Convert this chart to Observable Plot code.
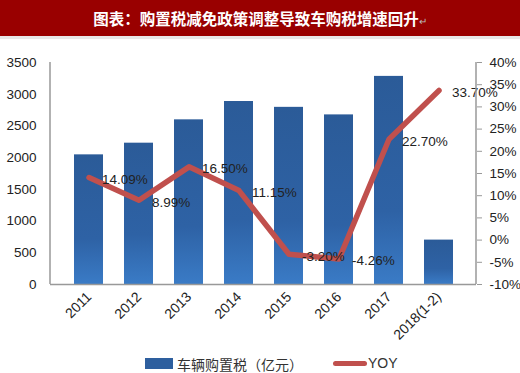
<!DOCTYPE html>
<html><head><meta charset="utf-8">
<script src="https://cdn.jsdelivr.net/npm/d3@7"></script>
<script src="https://cdn.jsdelivr.net/npm/@observablehq/plot@0.6"></script>
<style>
body{margin:0;background:#fff;width:520px;height:373px;overflow:hidden;position:relative;font-family:"Liberation Sans",Arial,sans-serif;}
#title{position:absolute;left:0;top:0;width:520px;height:36px;background:#990000;color:#fff;font-family:"Noto Sans CJK SC",sans-serif;font-weight:bold;font-size:15.5px;line-height:36px;text-align:center;border-bottom:3px solid #e8e8e8;}
#title span{color:#bbb;font-size:10px;font-weight:normal;}
#chart{position:absolute;left:0;top:37px;}
#legend{position:absolute;left:0;top:355px;width:520px;height:18px;font-size:14px;color:#333;}
.sw{position:absolute;}
</style></head><body>
<div id="title">图表：购置税减免政策调整导致车购税增速回升<span>↵</span></div>
<div id="chart"></div>
<div id="legend">
  <div class="sw" style="left:145px;top:3px;width:28px;height:11px;background:#2e5f9e;"></div>
  <div class="sw" style="left:177px;top:-1px;font-family:'Noto Sans CJK SC',sans-serif;font-size:14px;">车辆购置税（亿元）</div>
  <div class="sw" style="left:333px;top:6px;width:34px;height:5px;border-radius:3px;background:#c0504d;"></div>
  <div class="sw" style="left:368px;top:0px;font-size:14px;">YOY</div>
</div>
<script>
const categories = ["2011","2012","2013","2014","2015","2016","2017","2018(1-2)"];
const taxValues = [2044, 2228, 2596, 2885, 2793, 2674, 3281, 700];
const yoyValues = [14.09, 8.99, 16.50, 11.15, -3.20, -4.26, 22.70, 33.70];
const leftTicks = [0,500,1000,1500,2000,2500,3000,3500];
const rightTicks = [-10,-5,0,5,10,15,20,25,30,35,40];

const yMax = 3500, rMin = -10, rMax = 40;
const toLeft = v => (v - rMin) / (rMax - rMin) * yMax;
const fromLeft = d => Math.round(d / yMax * (rMax - rMin) + rMin);

const bars = categories.map((c,i)=>({cat:c, v:taxValues[i]}));
const line = categories.map((c,i)=>({cat:c, yoy:yoyValues[i], y:toLeft(yoyValues[i])}));

const plot = Plot.plot({
  width: 520, height: 313,
  marginLeft: 50, marginRight: 44, marginTop: 25, marginBottom: 66,
  style: {fontFamily: "'Liberation Sans', Arial, sans-serif", fontSize: "13px", color: "#222", background: "transparent", overflow: "visible"},
  x: {domain: categories, padding: 0.42, align: 0.5},
  y: {domain: [0, yMax]},
  marks: [
    Plot.barY(bars, {x: "cat", y: "v", fill: "url(#barGrad)"}),
    Plot.axisY(leftTicks, {anchor: "left", tickSize: 0, tickPadding: 14, fontSize: 13.5, label: null, tickFormat: d => String(d)}),
    Plot.axisY(rightTicks.map(toLeft), {anchor: "right", tickSize: 5, tickPadding: 8, fontSize: 13.5, label: null, stroke: "#999", tickFormat: d => fromLeft(d) + "%"}),
    Plot.axisX({tickRotate: -45, tickSize: 0, tickPadding: 10, fontSize: 14, label: null}),
    Plot.ruleY([0], {stroke: "#999", strokeWidth: 1.5}),
    Plot.line(line, {x: "cat", y: "y", stroke: "#c0504d", strokeWidth: 5.5, strokeLinecap: "round", strokeLinejoin: "round"}),
    Plot.text(line, {x: "cat", y: "y", text: d => d.yoy.toFixed(2) + "%", textAnchor: "start", dx: 13, dy: 2, fontSize: 13.5, fill: "#222"})
  ]
});
document.getElementById("chart").appendChild(plot);

// gradient defs
const svg = d3.select(plot);
const defs = svg.insert("defs", ":first-child");
const g = defs.append("linearGradient").attr("id","barGrad").attr("x1",0).attr("y1",0).attr("x2",0).attr("y2",1);
g.append("stop").attr("offset","0%").attr("stop-color","#2b5b98");
g.append("stop").attr("offset","65%").attr("stop-color","#2e62a5");
g.append("stop").attr("offset","100%").attr("stop-color","#3a7bc6");

// axis lines (left & right) drawn via the plot's y scale
const y = plot.scale("y");
const y0 = y.apply(0), y1 = y.apply(yMax);
const xl = 50, xr = 520 - 44;
svg.append("line").attr("x1",xl).attr("x2",xl).attr("y1",y0).attr("y2",y1).attr("stroke","#999").attr("stroke-width",1.5);
svg.append("line").attr("x1",xr).attr("x2",xr).attr("y1",y0).attr("y2",y1).attr("stroke","#999").attr("stroke-width",1.5);
</script>
</body></html>
